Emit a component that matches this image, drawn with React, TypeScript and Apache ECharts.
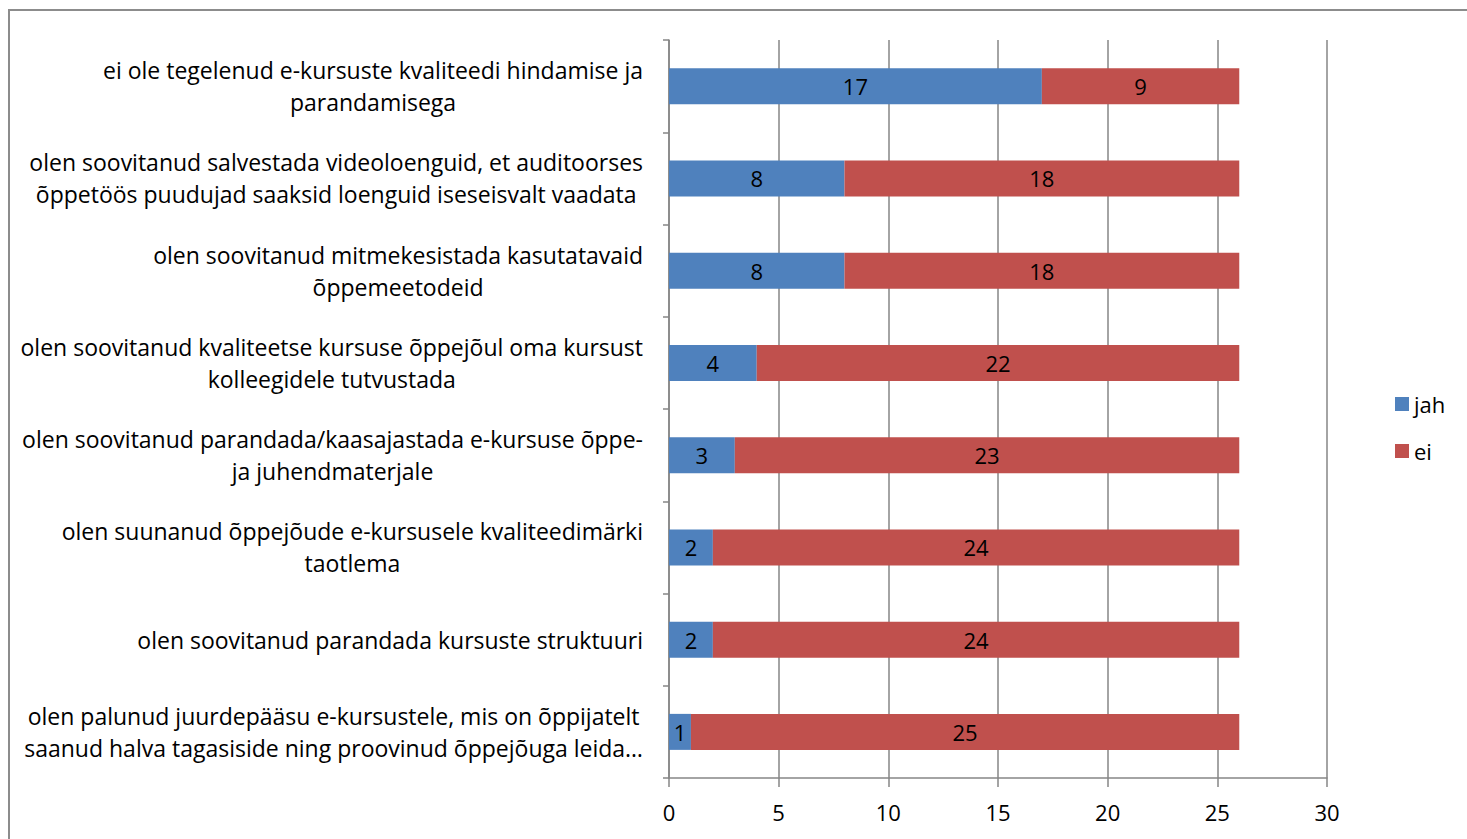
import React, { useEffect, useRef } from "react";
import * as echarts from "echarts";

const categories: string[][] = [
  ["ei ole tegelenud e-kursuste kvaliteedi hindamise ja", "parandamisega"],
  ["olen soovitanud salvestada videoloenguid, et auditoorses", "õppetöös puudujad saaksid loenguid iseseisvalt vaadata"],
  ["olen soovitanud mitmekesistada kasutatavaid", "õppemeetodeid"],
  ["olen soovitanud kvaliteetse kursuse õppejõul oma kursust", "kolleegidele tutvustada"],
  ["olen soovitanud parandada/kaasajastada e-kursuse õppe-", "ja juhendmaterjale"],
  ["olen suunanud õppejõude e-kursusele kvaliteedimärki", "taotlema"],
  ["olen soovitanud parandada kursuste struktuuri"],
  ["olen palunud juurdepääsu e-kursustele, mis on õppijatelt", "saanud halva tagasiside ning proovinud õppejõuga leida…"],
];
const jah: number[] = [17, 8, 8, 4, 3, 2, 2, 1];
const ei: number[] = [9, 18, 18, 22, 23, 24, 24, 25];
const xTicks = { min: 0, max: 30, interval: 5 };

const FONT = "'Open Sans', 'Noto Sans', sans-serif";
const FS = 23;
const FS2 = 22;

export default function App() {
  const ref = useRef<HTMLDivElement>(null);
  useEffect(() => {
    if (!ref.current) return;
    const chart = echarts.init(ref.current, undefined, { renderer: "svg" });
    const catKeys = categories.map((_, i) => "c" + i);
    chart.setOption({
      animation: false,
      backgroundColor: "#ffffff",
      textStyle: { fontFamily: FONT },
      graphic: [
        {
          type: "rect",
          shape: { x: 9, y: 10, width: 1600, height: 1000 },
          style: { fill: "none", stroke: "#8c8c8c", lineWidth: 2 },
          silent: true,
        },
      ],
      legend: {
        orient: "vertical",
        left: 1390,
        top: 388,
        itemWidth: 14,
        itemHeight: 14,
        itemGap: 25,
        icon: "rect",
        textStyle: { fontFamily: FONT, fontSize: FS2, color: "#000" },
        data: ["jah", "ei"],
      },
      grid: { left: 669, right: 140, top: 40, bottom: 61, containLabel: false },
      xAxis: {
        type: "value",
        min: xTicks.min,
        max: xTicks.max,
        interval: xTicks.interval,
        axisLine: { show: true, lineStyle: { color: "#868686", width: 1.5 } },
        axisTick: { show: true, length: 9, lineStyle: { color: "#868686", width: 1.5 } },
        splitLine: { show: true, lineStyle: { color: "#868686", width: 1.5 } },
        axisLabel: { fontFamily: FONT, fontSize: FS2, color: "#000", margin: 23 },
      },
      yAxis: {
        type: "category",
        inverse: true,
        data: catKeys,
        axisLine: { show: true, lineStyle: { color: "#868686", width: 1.5 } },
        axisTick: { show: true, length: 6, lineStyle: { color: "#868686", width: 1.5 } },
        axisLabel: {
          margin: 26,
          align: "right",
          formatter: (v: string) => {
            const i = catKeys.indexOf(v);
            return categories[i].map((l) => "{a|" + l + "}").join("\n");
          },
          rich: {
            a: {
              fontFamily: FONT,
              fontSize: FS,
              color: "#000",
              lineHeight: 32,
              align: "center",
            },
          },
        },
      },
      series: [
        {
          name: "jah",
          type: "bar",
          stack: "s",
          barWidth: 36,
          data: jah,
          itemStyle: { color: "#4F81BD" },
          label: { show: true, position: "inside", color: "#000", fontFamily: FONT, fontSize: FS2 },
        },
        {
          name: "ei",
          type: "bar",
          stack: "s",
          barWidth: 36,
          data: ei,
          itemStyle: { color: "#C0504D" },
          label: { show: true, position: "inside", color: "#000", fontFamily: FONT, fontSize: FS2 },
        },
      ],
    });
    return () => chart.dispose();
  }, []);
  return (
    <div
      ref={ref}
      style={{ position: "fixed", left: 0, top: 0, width: 1467, height: 839 }}
    />
  );
}
